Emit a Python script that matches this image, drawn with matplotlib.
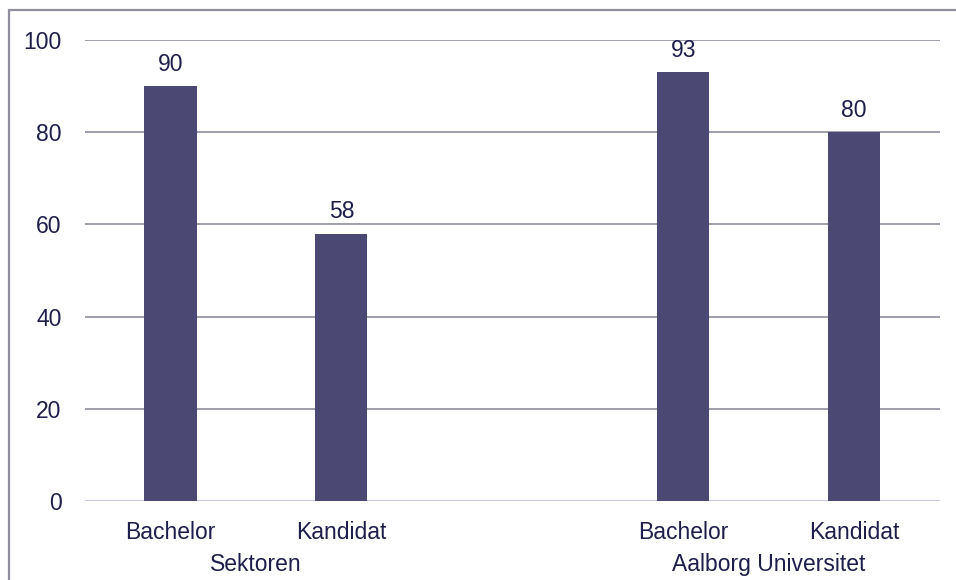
import numpy as np
from matplotlib import pyplot as plt
from matplotlib.patches import Rectangle

plt.rcParams['font.family'] = ['Liberation Sans', 'DejaVu Sans']

groups = ["Sektoren", "Aalborg Universitet"]
levels = ["Bachelor", "Kandidat"]
values = [[90, 58], [93, 80]]
labels = [["90", "58"], ["93", "80"]]

bar_color = '#4B4873'
text_color = '#1E1E4B'
grid_color = '#8E8D9C'
fs = 16.5

fig = plt.figure(figsize=(9.56, 5.8), dpi=100)
ax = fig.add_axes([0.0889, 0.136, 0.894, 0.795])

# frame around the chart
fig.patches.append(Rectangle((9 / 956, -0.1), 1.2, 1 - 10 / 580 + 0.1,
                             transform=fig.transFigure, fill=False,
                             edgecolor=grid_color, linewidth=1.6))

# 5 slots: two per group with an empty one between them
x = []
heights = []
names = []
for g in range(len(groups)):
    for l in range(len(levels)):
        x.append(g * 3 + l)
        heights.append(values[g][l])
        names.append(labels[g][l])
x = np.array(x)

rects = ax.bar(x, heights, 0.305, color=bar_color, zorder=3)
ax.bar_label(rects, labels=names, padding=7.5, fontsize=fs, color=text_color)

ax.set_xlim(-0.5, 4.5)
ax.set_ylim(0, 100)
ax.set_yticks(range(0, 101, 20))
for y in range(20, 101, 20):
    ax.axhline(y, color=grid_color, linewidth=1.2, zorder=1)
ax.axhline(0, color='#C9C8E6', linewidth=1.6, zorder=2)

for s in ax.spines.values():
    s.set_visible(False)
ax.tick_params(axis='both', length=0, labelsize=fs, colors=text_color)
ax.tick_params(axis='y', pad=17)
ax.tick_params(axis='x', pad=14)
ax.set_xticks(x, [levels[i % 2] for i in range(len(x))])

for g in range(len(groups)):
    ax.text(g * 3 + 0.5, -13.8, groups[g], ha='center', va='center',
            fontsize=fs, color=text_color)

fig.savefig('out.png', dpi=100)
